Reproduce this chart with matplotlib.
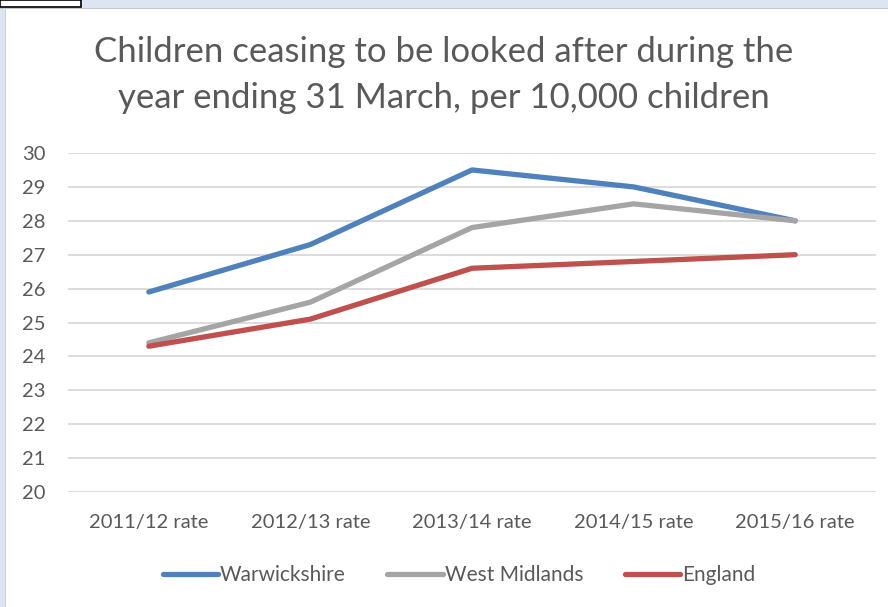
import matplotlib.pyplot as plt
from matplotlib.patches import Rectangle

# data
years = ['2011/12 rate', '2012/13 rate', '2013/14 rate', '2014/15 rate', '2015/16 rate']
warwickshire = [25.9, 27.3, 29.5, 29.0, 28.0]
west_midlands = [24.4, 25.6, 27.8, 28.5, 28.0]
england = [24.3, 25.1, 26.6, 26.8, 27.0]

plt.rcParams['font.family'] = ['Lato', 'DejaVu Sans']

fig = plt.figure(figsize=(8.88, 6.07), dpi=100)
W, H = 888, 607

# excel-ish window frame: blue strip on top and left
fig.patches.append(Rectangle((0, 1 - 8 / H), 1, 8 / H, transform=fig.transFigure,
                             facecolor='#dce6f2', edgecolor='none', zorder=0))
fig.patches.append(Rectangle((0, 0), 5 / W, 1, transform=fig.transFigure,
                             facecolor='#dce6f2', edgecolor='none', zorder=0))
fig.patches.append(Rectangle((0, 1 - 9 / H), 1, 1.2 / H, transform=fig.transFigure,
                             facecolor='#c8c8c8', edgecolor='none', zorder=1))
fig.patches.append(Rectangle((5 / W, 0), 1.2 / W, 1 - 8 / H, transform=fig.transFigure,
                             facecolor='#d0d0d0', edgecolor='none', zorder=1))
fig.patches.append(Rectangle((0, 1 - 7 / H), 81 / W, 7 / H, transform=fig.transFigure,
                             facecolor='white', edgecolor='black', linewidth=1.2, zorder=2))

ax = fig.add_axes([68 / W, 1 - 492 / H, (876 - 68) / W, (492 - 153) / H])

x = range(len(years))
ax.plot(x, warwickshire, color='#4f81bd', lw=3.8, solid_capstyle='round', label='Warwickshire', zorder=3)
ax.plot(x, west_midlands, color='#a5a5a5', lw=3.8, solid_capstyle='round', label='West Midlands', zorder=3)
ax.plot(x, england, color='#c0504d', lw=3.8, solid_capstyle='round', label='England', zorder=3)

ax.set_xlim(-0.5, len(years) - 0.5)
ax.set_ylim(20, 30)
ax.set_yticks(range(20, 31))
ax.set_xticks(list(x))
ax.set_xticklabels(years)
ax.grid(axis='y', color='#d9d9d9', lw=1.3)
ax.set_axisbelow(True)
for s in ax.spines.values():
    s.set_visible(False)
ax.tick_params(length=0, labelsize=14.5, colors='#595959')
ax.tick_params(axis='y', pad=16)
ax.tick_params(axis='x', pad=16)

fig.text(0.5, 1 - 52 / H, 'Children ceasing to be looked after during the',
         ha='center', va='center', fontsize=25, color='#595959')
fig.text(0.5, 1 - 98 / H, 'year ending 31 March, per 10,000 children',
         ha='center', va='center', fontsize=25, color='#595959')

leg = fig.legend(loc='center', bbox_to_anchor=(0.517, 1 - 575 / H), ncol=3, frameon=False,
                 fontsize=15, handlelength=2.65, handletextpad=0.1, columnspacing=2.0)
for t in leg.get_texts():
    t.set_color('#595959')

fig.savefig('out.png', dpi=100)
